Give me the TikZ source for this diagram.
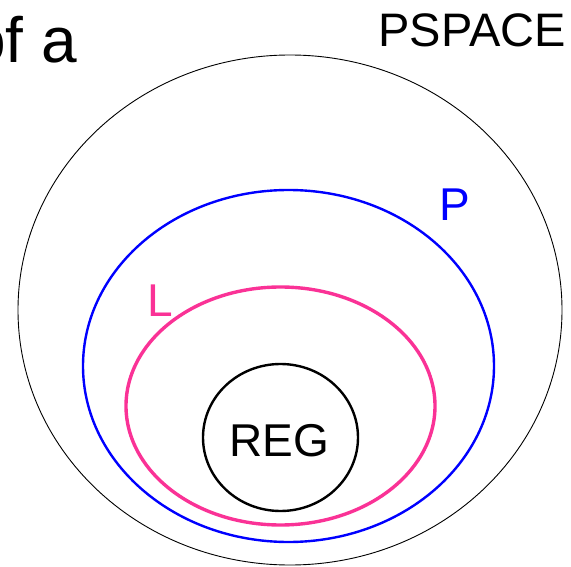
\documentclass[tikz,border=0pt]{standalone}
\usepackage{fontspec}
\setmainfont{Liberation Sans}
\usepackage{xcolor}
\usetikzlibrary{shapes.geometric, positioning}
\definecolor{pblue}{RGB}{0,0,255}
\definecolor{lpink}{RGB}{250,50,150}
\tikzstyle{classset} = [draw, ellipse, inner sep=0pt]
\tikzstyle{biglabel} = [inner sep=0pt, font=\fontsize{46}{54}\selectfont]

\begin{document}
\begin{tikzpicture}[x=1pt, y=-1pt]
    \useasboundingbox (0,0) rectangle (571,567);
    \node (pspace) [classset, line width=0.9pt, minimum width=544pt, minimum height=510pt] at (290,310) {};
    \node (pclass) [classset, draw=pblue, line width=2.4pt, minimum width=411pt, minimum height=352pt] at (288.5,366) {};
    \node (lclass) [classset, draw=lpink, line width=3.4pt, minimum width=309pt, minimum height=238pt] at (280.5,406) {};
    \node (reg) [classset, line width=2.4pt, minimum width=155pt, minimum height=147pt] at (280.5,437.5) {};
    \node (regtext) [biglabel] at (279.5,441) {REG};
    \node (ltext) [biglabel, text=lpink] at (160.5,301) {L};
    \node (ptext) [biglabel, text=pblue] at (454.5,205) {P};
    \node (pspacetext) [biglabel, font=\fontsize{47}{54}\selectfont, anchor=base east] at (566,47) {PSPACE};
    \node (ofa) [inner sep=0pt, font=\fontsize{64}{70}\selectfont, anchor=base east] at (77,63) {of a};
\end{tikzpicture}
\end{document}
